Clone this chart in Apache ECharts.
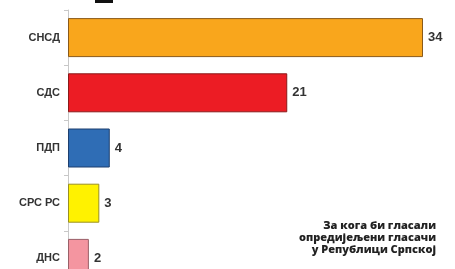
<!DOCTYPE html>
<html>
<head>
<meta charset="utf-8">
<script src="https://cdn.jsdelivr.net/npm/echarts@6/dist/echarts.min.js"></script>
<style>
  html, body { margin: 0; padding: 0; background: #fff; }
  #chart { width: 455px; height: 269px; }
</style>
</head>
<body>
<div id="chart"></div>
<script>
const parties = ["СНСД", "СДС", "ПДП", "СРС РС", "ДНС"];
const votes = [34, 21, 4, 3, 2];
const fills = ["#F9A61C", "#EC1C24", "#2F6DB5", "#FFF200", "#F495A0"];
const borders = ["#8A5A1A", "#8A1A1A", "#1D3F6E", "#9A9020", "#9A6068"];
const caption = ["За кога би гласали", "опредијељени гласачи", "у Републици Српској"];

const chart = echarts.init(document.getElementById("chart"));
const option = {
  animation: false,
  grid: { left: 68, width: 355, top: 10, height: 276, outerBoundsMode: "none", containLabel: false },
  xAxis: {
    type: "value",
    min: 0,
    max: 34,
    show: false,
  },
  yAxis: {
    type: "category",
    inverse: true,
    data: parties,
    axisLine: { lineStyle: { color: "#c8c8c8", width: 1 } },
    axisTick: { show: true, length: 4, lineStyle: { color: "#c8c8c8" } },
    axisLabel: {
      color: "#333",
      fontFamily: "Liberation Sans",
      fontWeight: "bold",
      fontSize: 11,
      margin: 8,
    },
  },
  series: [
    {
      type: "bar",
      barWidth: 39,
      data: votes.map((v, i) => ({
        value: v,
        itemStyle: { color: fills[i], borderColor: borders[i], borderWidth: 1 },
      })),
      label: {
        show: true,
        position: "right",
        distance: 5,
        color: "#333",
        fontFamily: "Liberation Sans",
        fontWeight: "bold",
        fontSize: 13,
      },
    },
  ],
  graphic: [
    { type: "rect", shape: { x: 95, y: 0, width: 18, height: 3 }, style: { fill: "#111" } },
    {
      type: "text",
      x: 436,
      y: 220,
      style: {
        text: caption.join("\n"),
        align: "right",
        verticalAlign: "top",
        fill: "#222",
        font: "800 11px 'Open Sans'",
        lineHeight: 12,
      },
    },
  ],
};
chart.setOption(option);
</script>
</body>
</html>
